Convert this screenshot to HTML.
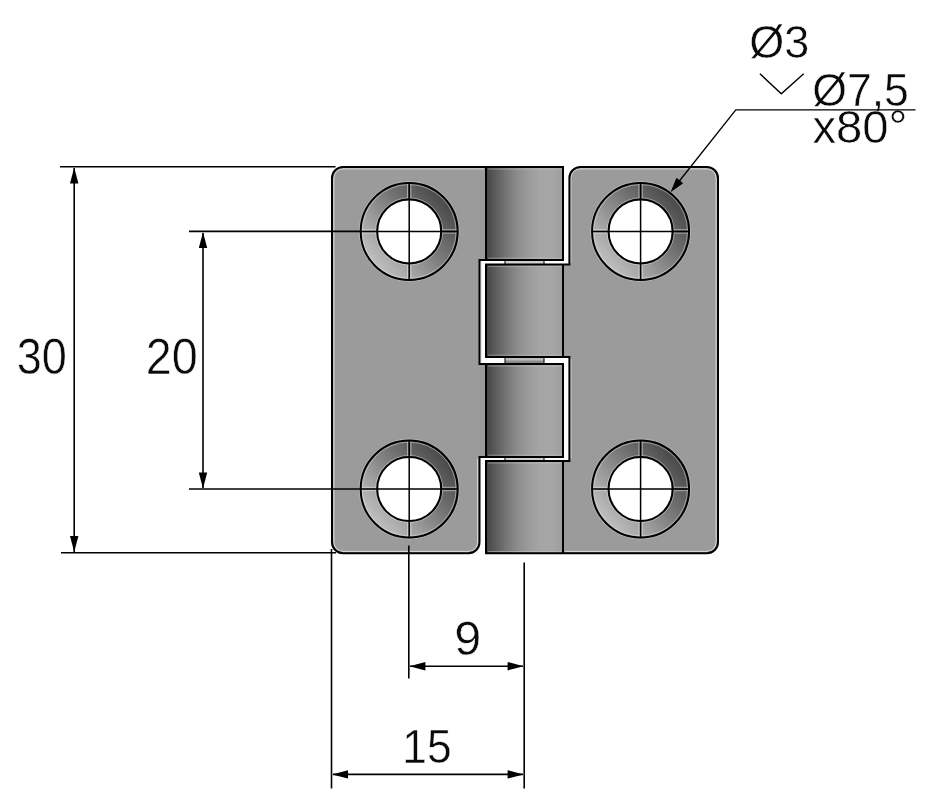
<!DOCTYPE html>
<html>
<head>
<meta charset="utf-8">
<title>Hinge drawing</title>
<style>
html,body{margin:0;padding:0;background:#fff;}
body{width:936px;height:807px;overflow:hidden;position:relative;font-family:"Liberation Sans",sans-serif;}
svg{position:absolute;left:0;top:0;display:block;filter:grayscale(1);}
text{font-family:"Liberation Sans",sans-serif;fill:#0a0a0a;}
</style>
</head>
<body>
<svg width="936" height="807" viewBox="0 0 936 807">
<defs>
  <linearGradient id="barrel" x1="486" y1="0" x2="563" y2="0" gradientUnits="userSpaceOnUse">
    <stop offset="0" stop-color="#444"/>
    <stop offset="0.1" stop-color="#585858"/>
    <stop offset="0.25" stop-color="#737373"/>
    <stop offset="0.4" stop-color="#8b8b8b"/>
    <stop offset="0.55" stop-color="#9b9b9b"/>
    <stop offset="0.7" stop-color="#a5a5a5"/>
    <stop offset="0.85" stop-color="#a6a6a6"/>
    <stop offset="1" stop-color="#9e9e9e"/>
  </linearGradient>
  <linearGradient id="ring" x1="0.12" y1="0.88" x2="0.9" y2="0.2">
    <stop offset="0" stop-color="#c4c4c4"/>
    <stop offset="0.3" stop-color="#a0a0a0"/>
    <stop offset="0.6" stop-color="#777"/>
    <stop offset="1" stop-color="#484848"/>
  </linearGradient>
  <linearGradient id="pin" x1="0" y1="0" x2="0" y2="1">
    <stop offset="0" stop-color="#9a9a9a"/><stop offset="0.35" stop-color="#c4c4c4"/><stop offset="0.6" stop-color="#8e8e8e"/><stop offset="1" stop-color="#7a7a7a"/>
  </linearGradient>
  <g id="hole">
    <circle cx="0" cy="0" r="50" fill="none" stroke="#cfcfcf" stroke-width="0.9" opacity="0.6"/>
    <circle cx="0" cy="0" r="48.5" fill="url(#ring)" stroke="#000" stroke-width="2"/>
    <circle cx="0" cy="0" r="46.9" fill="none" stroke="#e6e6e6" stroke-width="0.8" opacity="0.6"/>
    <circle cx="0" cy="0" r="33.6" fill="none" stroke="#e6e6e6" stroke-width="0.8" opacity="0.55"/>
    <path d="M-47,-1.7H-33.5M-47,1.7H-33.5M47,-1.7H33.5M47,1.7H33.5M-1.7,-47V-33.5M1.7,-47V-33.5M-1.7,47V33.5M1.7,47V33.5" stroke="#e8e8e8" stroke-width="0.9" opacity="0.6" fill="none"/>
    <circle cx="0" cy="0" r="32" fill="#fff" stroke="#000" stroke-width="2"/>
    <path d="M-48.5,0H48.5M0,-48.5V48.5" stroke="#000" stroke-width="1.5" fill="none"/>
  </g>
  <path id="ah" d="M0,0L-4.2,16L4.2,16Z" fill="#000"/>
</defs>

<!-- plates -->
<path d="M343,167H563V260H479.5V364H563V457H479.5V542.3a11,11 0 0 1 -11,11H343a11,11 0 0 1 -11,-11V178a11,11 0 0 1 11,-11Z" fill="#9b9b9b"/>
<path d="M580.4,167H707a11,11 0 0 1 11,11V542.3a11,11 0 0 1 -11,11H486V461H569.4V357H486V264.5H569.4V178a11,11 0 0 1 11,-11Z" fill="#9b9b9b"/>
<!-- inner light edge -->
<g fill="none" stroke="#e2e2e2" stroke-width="1" opacity="0.9">
  <path d="M484,168.9H343a9.1,9.1 0 0 0 -9.1,9.1V542.3a9.1,9.1 0 0 0 9.1,9.1H468.5a9.1,9.1 0 0 0 9.1,-9.1V459"/>
  <path d="M570.9,262.5V178a9.1,9.1 0 0 1 9.1,-9.1H707a9.1,9.1 0 0 1 9.1,9.1V542.3a9.1,9.1 0 0 1 -9.1,9.1H565"/>
  <path d="M481.4,262V362M570.9,359V459"/>
</g>
<!-- pin in gaps -->
<rect x="505" y="259" width="39" height="6" fill="#d0d0d0"/>
<rect x="505" y="356" width="39" height="9" fill="url(#pin)"/>
<rect x="505" y="456" width="39" height="6" fill="#d0d0d0"/>
<path d="M505,260V264.5M544,260V264.5M505,357V364M544,357V364M505,457V461M544,457V461" stroke="#222" stroke-width="1.2" fill="none"/>
<!-- barrel segments -->
<rect x="486" y="167" width="77" height="93" fill="url(#barrel)"/>
<rect x="486" y="264.5" width="77" height="92.5" fill="url(#barrel)"/>
<rect x="486" y="364" width="77" height="93" fill="url(#barrel)"/>
<rect x="486" y="461" width="77" height="92.3" fill="url(#barrel)"/>
<path d="M488,169H561.5M488,266.3H561.5M488,366H561.5M488,463H561.5M488,551.5H561.5M488,258.2H561.5M488,355.2H561.5M488,455.2H561.5" stroke="#cfcfcf" stroke-width="0.9" opacity="0.55" fill="none"/>
<!-- outlines -->
<g fill="none" stroke="#000" stroke-width="2" stroke-linejoin="miter">
  <path d="M343,167H563V260H479.5V364H563V457H479.5V542.3a11,11 0 0 1 -11,11H343a11,11 0 0 1 -11,-11V178a11,11 0 0 1 11,-11Z"/>
  <path d="M580.4,167H707a11,11 0 0 1 11,11V542.3a11,11 0 0 1 -11,11H486V461H569.4V357H486V264.5H569.4V178a11,11 0 0 1 11,-11Z"/>
  <path d="M486,167V260M486,364V457M563,264.5V357M563,461V553.3"/>
</g>

<!-- holes -->
<use href="#hole" x="409.2" y="231.4"/>
<use href="#hole" x="640.6" y="231.4"/>
<use href="#hole" x="409.2" y="489"/>
<use href="#hole" x="640.6" y="489"/>

<!-- text -->
<g stroke="#fff" stroke-width="0.5" stroke-linejoin="round">
<text transform="translate(16.7,373.7) scale(0.915,1)" font-size="49.2">30</text>
<text transform="translate(145.7,373.7) scale(0.95,1)" font-size="49.2">20</text>
<text transform="translate(454.2,654.9) scale(1,1)" font-size="48.5">9</text>
<text transform="translate(402.3,763.4) scale(0.915,1)" font-size="48.5">15</text>
<text transform="translate(749.2,57.7) scale(0.968,1)" font-size="46.5">Ø3</text>
<text transform="translate(812.2,106.4) scale(0.96,1)" font-size="46.5">Ø7,5</text>
<text transform="translate(812.4,143.4) scale(1.017,1)" font-size="46.5">x80°</text>
</g>

<!-- dimension lines -->
<g fill="none" stroke="#000" stroke-width="1.6">
  <path d="M60,166.7H335.5"/>
  <path d="M61,552.8H336"/>
  <path d="M74.2,168V552"/>
  <path d="M189,231.4H361"/>
  <path d="M189,489H361"/>
  <path d="M203,233V488"/>
  <path d="M331.5,549V788.5"/>
  <path d="M524.2,562.5V788.5"/>
  <path d="M408.8,545.6V678.5"/>
  <path d="M410,666.2H523"/>
  <path d="M333,774.4H523"/>
</g>
<g fill="none" stroke="#000" stroke-width="1.35">
  <path d="M915.5,109.8H735.8L677,184"/>
  <path d="M759.9,73.7L781.3,93.8L803.7,73.7" stroke-width="1.4"/>
</g>
<!-- arrowheads -->
<use href="#ah" x="74.2" y="167.5"/>
<use href="#ah" transform="translate(74.2,552) rotate(180)"/>
<use href="#ah" x="203" y="232"/>
<use href="#ah" transform="translate(203,488.4) rotate(180)"/>
<use href="#ah" transform="translate(409.4,666.2) rotate(-90)"/>
<use href="#ah" transform="translate(523.6,666.2) rotate(90)"/>
<use href="#ah" transform="translate(332,774.4) rotate(-90)"/>
<use href="#ah" transform="translate(523.6,774.4) rotate(90)"/>
<path d="M670.5,192.2L676.5,177.8L683.2,183.15Z" fill="#000"/>

</svg>
</body>
</html>
